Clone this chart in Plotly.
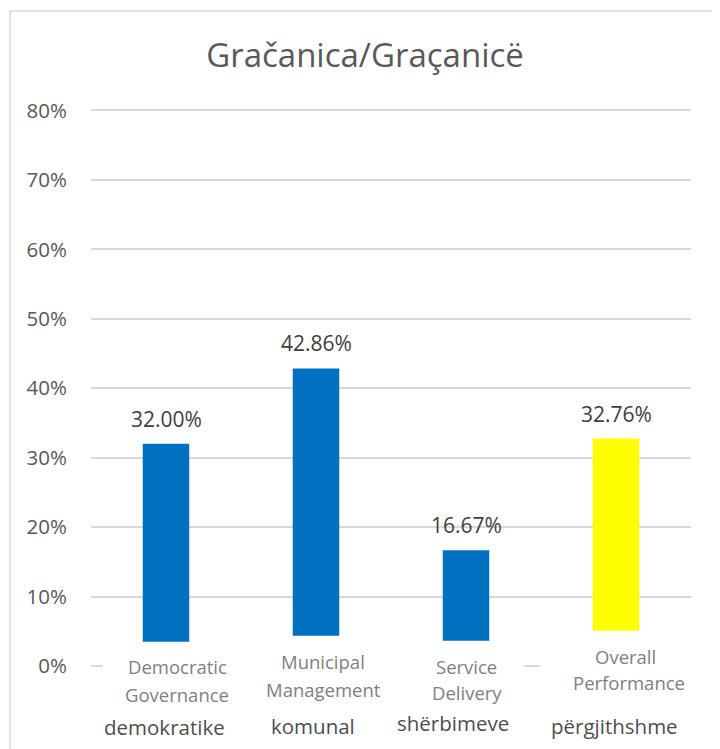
import plotly.graph_objects as go

# ---- data ----
title_text = "Gračanica/Graçanicë"
cat_en_line1 = ["Democratic", "Municipal", "Service", "Overall"]
cat_en_line2 = ["Governance", "Management", "Delivery", "Performance"]
cat_sq = ["demokratike", "komunal", "shërbimeve", "përgjithshme"]
values = [0.3200, 0.4286, 0.1667, 0.3276]
value_labels = ["32.00%", "42.86%", "16.67%", "32.76%"]
bar_colors = ["#0070C0", "#0070C0", "#0070C0", "#FFFF00"]

# ---- layout geometry (page pixels; figure sits at an 8px page offset) ----
OFF = 8
W, H = 720 - OFF, 749 - OFF
Y_MAX = 0.805
PX_PER_UNIT = 695.0
PLOT_L, PLOT_R, PLOT_B = 91, 691, 666
PLOT_T = PLOT_B - Y_MAX * PX_PER_UNIT
L, R, T, B = PLOT_L - OFF, 720 - PLOT_R, PLOT_T - OFF, 749 - PLOT_B
PW, PH = PLOT_R - PLOT_L, PLOT_B - PLOT_T
FONT = "Open Sans"


def px_to_py(py):
    return (PLOT_B - py) / PH


def px_to_x(px):
    return (px - PLOT_L) / (PW / 4) - 0.5


fig = go.Figure()
fig.add_trace(go.Bar(
    x=list(range(len(values))), y=values, marker_color=bar_colors,
    width=0.31, marker_line_width=0, hoverinfo="skip",
))

shapes = []
# white boxes behind category labels (cover bar bottoms and axis line)
box_x = [(102.7, 241), (241, 391), (391, 524), (540, 693)]
box_top = [641.7, 635.7, 640.7, 630.7]
for (x0, x1), top in zip(box_x, box_top):
    shapes.append(dict(type="rect", xref="x", yref="paper", layer="above",
                       x0=px_to_x(x0), x1=px_to_x(x1),
                       y0=px_to_py(672), y1=px_to_py(top),
                       fillcolor="white", line_width=0))
# chart border
shapes.append(dict(type="rect", xref="paper", yref="paper",
                   x0=(10 - PLOT_L) / PW, x1=(719 - PLOT_L) / PW,
                   y0=px_to_py(770), y1=px_to_py(10.5),
                   line=dict(color="#d9d9d9", width=1.5), fillcolor="rgba(0,0,0,0)",
                   layer="below"))

annotations = []
for i, (v, t) in enumerate(zip(values, value_labels)):
    annotations.append(dict(x=i, y=v, xref="x", yref="y", text=t, showarrow=False,
                            yshift=25, font=dict(family=FONT, size=21, color="#404040")))

l1_pos = [(177.5, 666.7), (323, 661.7), (466, 666), (625.7, 656)]
l2_pos = [(176.7, 695), (323, 690), (467, 693), (629, 683)]
l3_pos = [(164, 727), (313, 726), (453, 723), (614, 726)]
for txts, pos, size, color in [
    (cat_en_line1, l1_pos, 18.5, "#7f7f7f"),
    (cat_en_line2, l2_pos, 18.5, "#7f7f7f"),
    (cat_sq, l3_pos, 20.5, "#4d4d4d"),
]:
    for t, (px, py) in zip(txts, pos):
        annotations.append(dict(x=px_to_x(px), y=px_to_py(py), xref="x", yref="paper",
                                text=t, showarrow=False, xanchor="center", yanchor="middle",
                                font=dict(family=FONT, size=size, color=color)))

fig.update_layout(
    width=W, height=H,
    margin=dict(l=L, r=R, t=T, b=B, pad=0),
    paper_bgcolor="white", plot_bgcolor="white",
    showlegend=False,
    title=dict(text=title_text, x=(365 - OFF) / W, xanchor="center",
               y=1 - (55 - OFF) / H, yanchor="middle",
               font=dict(family=FONT, size=33, color="#595959")),
    xaxis=dict(range=[-0.5, 3.5], showticklabels=False, showgrid=False, zeroline=False,
               showline=False, ticks=""),
    yaxis=dict(range=[0, Y_MAX], tickvals=[0, 0.1, 0.2, 0.3, 0.4, 0.5, 0.6, 0.7, 0.8],
               tickformat=".0%", showgrid=True,
               gridcolor="#d9d9d9", gridwidth=1.5, zeroline=True, zerolinecolor="#d9d9d9",
               zerolinewidth=1.5, showline=False, ticks="", ticklabelstandoff=23,
               tickfont=dict(family=FONT, size=20.5, color="#595959")),
    shapes=shapes, annotations=annotations,
)

fig.write_html("out.html")
